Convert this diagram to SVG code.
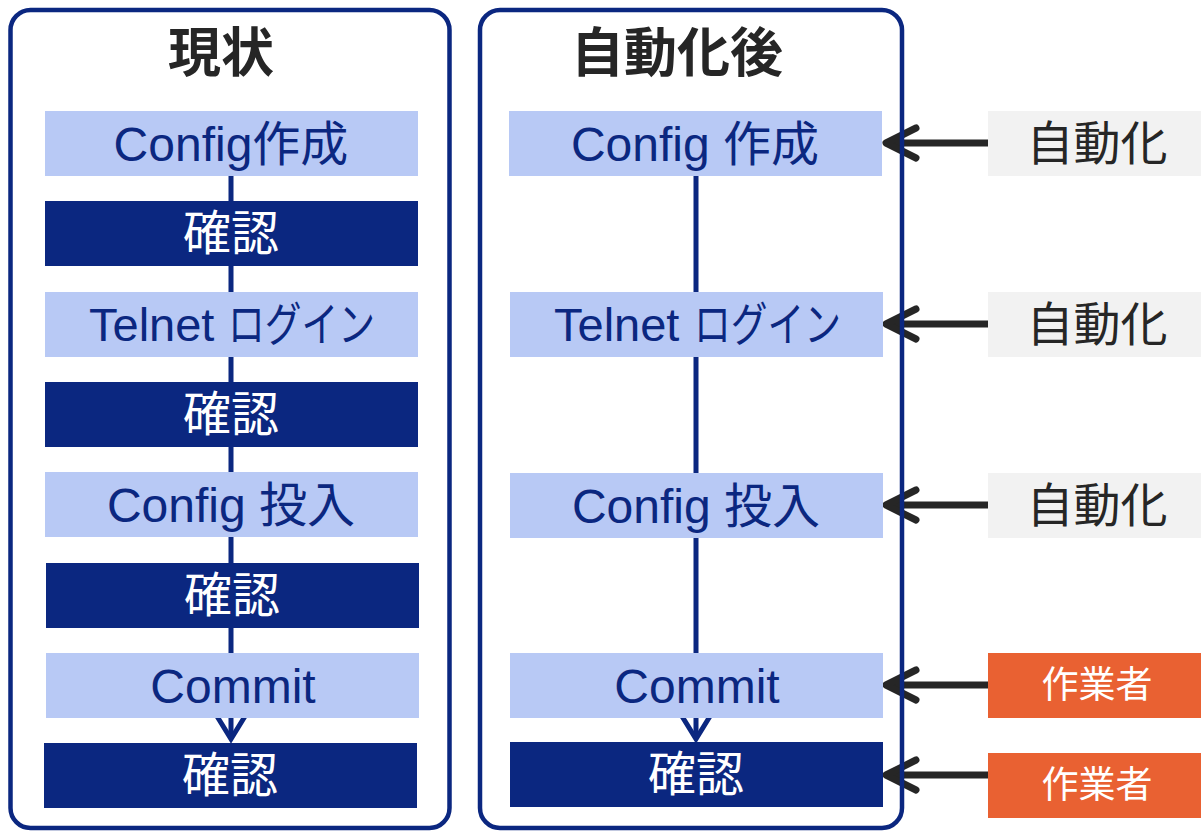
<svg xmlns="http://www.w3.org/2000/svg" width="1201" height="832" viewBox="0 0 1201 832">
<style>
.panel{fill:none;stroke:#0b2780;stroke-width:4.5}
.title{font-family:"Noto Sans CJK JP","Liberation Sans",sans-serif;font-weight:bold;font-size:53px;fill:#262626;text-anchor:middle}
.lb{fill:#b8c9f5}
.db{fill:#0b2780}
.lt{font-family:"Liberation Sans","Noto Sans CJK JP",sans-serif;font-size:48px;fill:#0b2780;text-anchor:middle}
.lts{font-family:"Liberation Sans","Noto Sans CJK JP",sans-serif;font-size:47px;fill:#0b2780}
.dt{font-family:"Liberation Sans","Noto Sans CJK JP",sans-serif;font-size:48px;fill:#ffffff;text-anchor:middle}
.gb{fill:#f2f2f2}
.gt{font-family:"Noto Sans CJK JP",sans-serif;font-size:47px;fill:#262626;text-anchor:middle}
.ob{fill:#e96132}
.ot{font-family:"Noto Sans CJK JP",sans-serif;font-size:37px;fill:#ffffff;text-anchor:middle}
.flow{stroke:#0b2780;stroke-width:5;fill:none}
.arr{stroke:#262626;stroke-width:7;fill:none;stroke-linecap:round;stroke-linejoin:round}
</style>
<rect width="1201" height="832" fill="#ffffff"/>
<g id="connectors">
<line class="flow" x1="231" y1="170" x2="231" y2="738"/>
<polyline class="flow" points="215,713 231,739 247,713"/>
<line class="flow" x1="696" y1="170" x2="696" y2="738"/>
<polyline class="flow" points="680,713 696,739 712,713"/>
<g id="side-arrows">
<line class="arr" x1="988" y1="143" x2="888" y2="143"/><polyline class="arr" points="916,128 886,143 916,158"/>
<line class="arr" x1="988" y1="324" x2="888" y2="324"/><polyline class="arr" points="916,309 886,324 916,339"/>
<line class="arr" x1="988" y1="505" x2="888" y2="505"/><polyline class="arr" points="916,490 886,505 916,520"/>
<line class="arr" x1="988" y1="685" x2="888" y2="685"/><polyline class="arr" points="916,670 886,685 916,700"/>
<line class="arr" x1="988" y1="775" x2="888" y2="775"/><polyline class="arr" points="916,760 886,775 916,790"/>
</g>
</g>
<g id="l-config"><rect class="lb" x="45" y="111" width="373" height="65"/><text class="lt" x="231" y="161">Config作成</text></g>
<g id="l-check1"><rect class="db" x="45" y="201" width="373" height="65"/><text class="dt" x="231" y="250">確認</text></g>
<g id="l-telnet"><rect class="lb" x="45" y="292" width="373" height="65"/><text class="lts" x="89" y="341">Telnet <tspan x="228" textLength="147" lengthAdjust="spacingAndGlyphs">ログイン</tspan></text></g>
<g id="l-check2"><rect class="db" x="45" y="382" width="373" height="65"/><text class="dt" x="231" y="431">確認</text></g>
<g id="l-input"><rect class="lb" x="45" y="472" width="373" height="65"/><text class="lt" x="231" y="522">Config 投入</text></g>
<g id="l-check3"><rect class="db" x="46" y="563" width="373" height="65"/><text class="dt" x="232" y="612">確認</text></g>
<g id="l-commit"><rect class="lb" x="46" y="653" width="373" height="65"/><text class="lt" x="233" y="703">Commit</text></g>
<g id="l-check4"><rect class="db" x="44" y="743" width="373" height="65"/><text class="dt" x="230" y="792">確認</text></g>
<g id="r-config"><rect class="lb" x="509" y="111" width="373" height="65"/><text class="lt" x="695" y="161">Config 作成</text></g>
<g id="r-telnet"><rect class="lb" x="510" y="292" width="373" height="65"/><text class="lts" x="554" y="341">Telnet <tspan x="694" textLength="147" lengthAdjust="spacingAndGlyphs">ログイン</tspan></text></g>
<g id="r-input"><rect class="lb" x="510" y="473" width="373" height="65"/><text class="lt" x="696" y="523">Config 投入</text></g>
<g id="r-commit"><rect class="lb" x="510" y="653" width="373" height="65"/><text class="lt" x="697" y="703">Commit</text></g>
<g id="r-check"><rect class="db" x="510" y="742" width="373" height="65"/><text class="dt" x="696" y="791">確認</text></g>
<g id="auto1"><rect class="gb" x="988" y="111" width="213" height="65"/><text class="gt" x="1097" y="160">自動化</text></g>
<g id="auto2"><rect class="gb" x="988" y="292" width="213" height="65"/><text class="gt" x="1097" y="341">自動化</text></g>
<g id="auto3"><rect class="gb" x="988" y="473" width="213" height="65"/><text class="gt" x="1097" y="522">自動化</text></g>
<g id="worker1"><rect class="ob" x="988" y="653" width="213" height="65"/><text class="ot" x="1097" y="698">作業者</text></g>
<g id="worker2"><rect class="ob" x="988" y="753" width="213" height="65"/><text class="ot" x="1097" y="798">作業者</text></g>
<g id="panel-current"><rect class="panel" x="10.5" y="10" width="439" height="818" rx="20"/><text class="title" x="221" y="72">現状</text></g>
<g id="panel-auto"><rect class="panel" x="480" y="10" width="422" height="818" rx="20"/><text class="title" x="677" y="72">自動化後</text></g>
</svg>
